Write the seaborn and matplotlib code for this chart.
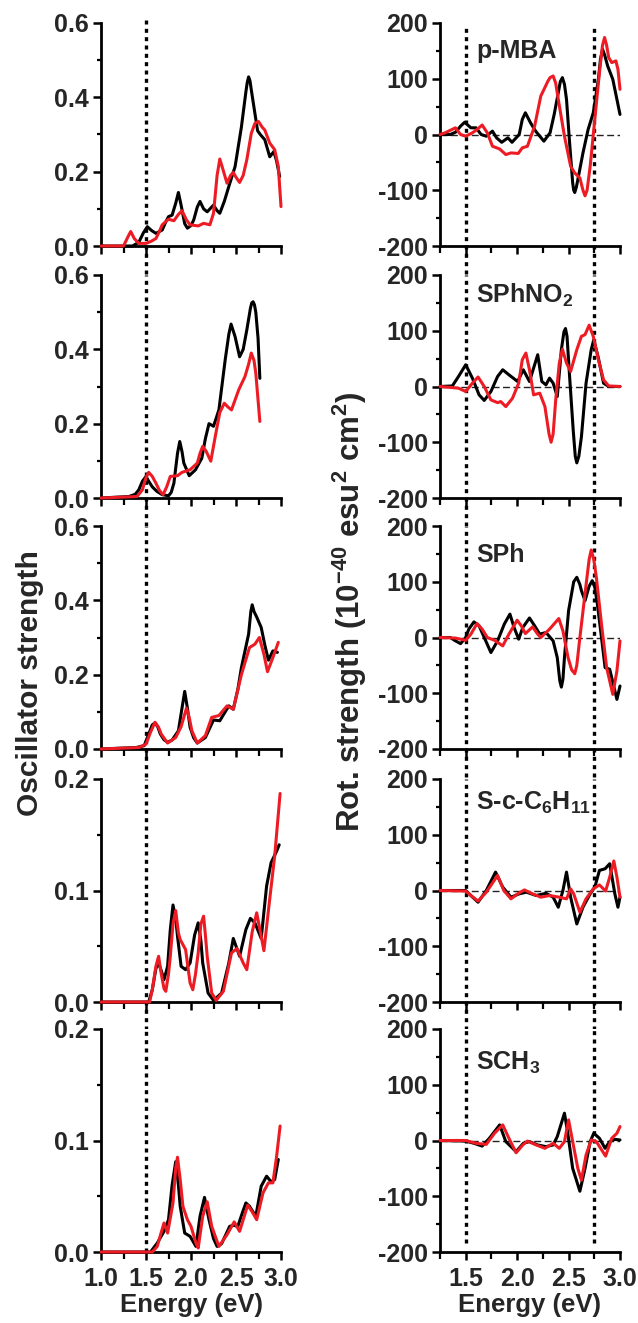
import matplotlib
matplotlib.use("Agg")
import matplotlib.pyplot as plt
from matplotlib.ticker import MultipleLocator, FormatStrFormatter
import seaborn as sns

# ---------------- data ----------------
names = ["p-MBA", "SPhNO$_2$", "SPh", "S-c-C$_6$H$_{11}$", "SCH$_3$"]

# oscillator strength (left column), black = one model, red = the other
mba_f_k_e = [1.0, 1.35, 1.42, 1.47, 1.515, 1.56, 1.61, 1.68, 1.72, 1.75, 1.79, 1.83, 1.86, 1.89, 1.93, 1.96, 2.00, 2.03, 2.07, 2.10, 2.14, 2.18, 2.25, 2.29, 2.32, 2.37, 2.42, 2.49, 2.56, 2.61, 2.625, 2.64, 2.655, 2.67, 2.71, 2.74, 2.77, 2.82, 2.875, 2.92, 2.95, 2.985]
mba_f_k = [0, 0, 0.01, 0.035, 0.052, 0.042, 0.034, 0.043, 0.065, 0.079, 0.083, 0.115, 0.144, 0.11, 0.06, 0.048, 0.055, 0.07, 0.105, 0.12, 0.10, 0.092, 0.11, 0.095, 0.088, 0.12, 0.16, 0.214, 0.32, 0.415, 0.44, 0.455, 0.445, 0.42, 0.357, 0.31, 0.30, 0.286, 0.24, 0.254, 0.23, 0.187]
mba_f_r_e = [1.0, 1.25, 1.30, 1.33, 1.37, 1.42, 1.50, 1.56, 1.61, 1.65, 1.68, 1.75, 1.81, 1.86, 1.90, 1.95, 1.99, 2.08, 2.14, 2.21, 2.25, 2.29, 2.32, 2.35, 2.40, 2.44, 2.47, 2.50, 2.54, 2.58, 2.62, 2.67, 2.71, 2.75, 2.79, 2.82, 2.875, 2.93, 2.97, 3.0]
mba_f_r = [0, 0, 0.025, 0.039, 0.02, 0.007, 0.007, 0.013, 0.02, 0.04, 0.057, 0.072, 0.068, 0.085, 0.095, 0.07, 0.057, 0.054, 0.061, 0.057, 0.088, 0.19, 0.234, 0.21, 0.169, 0.19, 0.198, 0.185, 0.171, 0.19, 0.232, 0.303, 0.33, 0.335, 0.32, 0.312, 0.277, 0.259, 0.214, 0.106]

no2_f_k_e = [1.0, 1.31, 1.38, 1.42, 1.46, 1.50, 1.53, 1.57, 1.62, 1.68, 1.75, 1.78, 1.81, 1.85, 1.875, 1.90, 1.92, 1.98, 2.05, 2.12, 2.16, 2.20, 2.25, 2.31, 2.38, 2.42, 2.445, 2.49, 2.54, 2.58, 2.62, 2.66, 2.675, 2.69, 2.705, 2.72, 2.745, 2.765]
no2_f_k = [0, 0.004, 0.01, 0.022, 0.045, 0.058, 0.045, 0.03, 0.018, 0.009, 0.006, 0.015, 0.04, 0.12, 0.152, 0.125, 0.094, 0.06, 0.076, 0.107, 0.16, 0.20, 0.193, 0.237, 0.372, 0.44, 0.468, 0.434, 0.38, 0.40, 0.452, 0.51, 0.525, 0.528, 0.52, 0.50, 0.43, 0.322]
no2_f_r_e = [1.0, 1.40, 1.46, 1.50, 1.53, 1.57, 1.61, 1.65, 1.69, 1.73, 1.77, 1.85, 1.90, 1.99, 2.07, 2.10, 2.13, 2.17, 2.22, 2.27, 2.32, 2.37, 2.41, 2.45, 2.53, 2.60, 2.64, 2.67, 2.70, 2.72, 2.765]
no2_f_r = [0, 0.004, 0.022, 0.055, 0.069, 0.058, 0.04, 0.02, 0.009, 0.03, 0.058, 0.06, 0.069, 0.076, 0.094, 0.12, 0.139, 0.125, 0.099, 0.166, 0.23, 0.255, 0.245, 0.237, 0.291, 0.327, 0.36, 0.39, 0.37, 0.336, 0.206]

sph_f_k_e = [1.0, 1.39, 1.48, 1.53, 1.57, 1.60, 1.63, 1.66, 1.70, 1.74, 1.79, 1.86, 1.90, 1.93, 1.96, 1.99, 2.03, 2.07, 2.16, 2.25, 2.32, 2.42, 2.47, 2.52, 2.56, 2.64, 2.665, 2.68, 2.70, 2.73, 2.78, 2.82, 2.86, 2.91, 2.96]
sph_f_k = [0, 0.004, 0.009, 0.04, 0.065, 0.07, 0.06, 0.04, 0.025, 0.018, 0.024, 0.049, 0.11, 0.155, 0.11, 0.058, 0.03, 0.016, 0.031, 0.078, 0.076, 0.116, 0.107, 0.16, 0.219, 0.309, 0.37, 0.388, 0.37, 0.355, 0.327, 0.28, 0.239, 0.264, 0.26]
sph_f_r_e = [1.0, 1.42, 1.50, 1.55, 1.60, 1.64, 1.67, 1.74, 1.83, 1.89, 1.95, 1.98, 2.01, 2.07, 2.16, 2.23, 2.31, 2.40, 2.47, 2.56, 2.65, 2.71, 2.76, 2.81, 2.85, 2.91, 2.97]
sph_f_r = [0, 0.004, 0.013, 0.045, 0.072, 0.058, 0.04, 0.016, 0.031, 0.06, 0.11, 0.085, 0.049, 0.016, 0.036, 0.085, 0.09, 0.116, 0.107, 0.20, 0.273, 0.282, 0.30, 0.255, 0.208, 0.246, 0.287]

chx_f_k_e = [1.0, 1.53, 1.57, 1.61, 1.64, 1.67, 1.70, 1.74, 1.77, 1.80, 1.83, 1.85, 1.89, 1.94, 1.99, 2.04, 2.08, 2.11, 2.13, 2.19, 2.25, 2.34, 2.42, 2.47, 2.54, 2.61, 2.66, 2.71, 2.78, 2.84, 2.89, 2.95, 2.98]
chx_f_k = [0, 0, 0.011, 0.03, 0.035, 0.028, 0.02, 0.032, 0.065, 0.087, 0.075, 0.059, 0.032, 0.029, 0.035, 0.06, 0.071, 0.055, 0.035, 0.008, 0.0015, 0.008, 0.035, 0.057, 0.041, 0.065, 0.075, 0.071, 0.057, 0.104, 0.125, 0.135, 0.141]
chx_f_r_e = [1.0, 1.54, 1.57, 1.61, 1.64, 1.67, 1.70, 1.72, 1.75, 1.77, 1.80, 1.83, 1.86, 1.88, 1.94, 1.99, 2.02, 2.05, 2.08, 2.11, 2.14, 2.16, 2.18, 2.23, 2.28, 2.36, 2.45, 2.51, 2.58, 2.62, 2.68, 2.73, 2.78, 2.81, 2.87, 2.93, 2.99]
chx_f_r = [0, 0, 0.011, 0.032, 0.041, 0.025, 0.012, 0.0096, 0.025, 0.041, 0.07, 0.082, 0.062, 0.056, 0.047, 0.017, 0.011, 0.025, 0.044, 0.07, 0.077, 0.06, 0.041, 0.008, 0.0015, 0.0096, 0.044, 0.048, 0.035, 0.029, 0.063, 0.08, 0.059, 0.046, 0.089, 0.131, 0.187]

me_f_k_e = [1.0, 1.55, 1.625, 1.70, 1.75, 1.79, 1.83, 1.86, 1.88, 1.93, 1.99, 2.055, 2.10, 2.15, 2.20, 2.25, 2.29, 2.34, 2.43, 2.47, 2.52, 2.57, 2.61, 2.65, 2.72, 2.78, 2.84, 2.89, 2.93, 2.97]
me_f_k = [0, 0, 0.008, 0.0185, 0.029, 0.06, 0.081, 0.06, 0.041, 0.017, 0.014, 0.005, 0.032, 0.049, 0.029, 0.012, 0.005, 0.0075, 0.023, 0.024, 0.023, 0.035, 0.044, 0.041, 0.032, 0.059, 0.068, 0.063, 0.065, 0.083]
me_f_r_e = [1.0, 1.57, 1.625, 1.66, 1.70, 1.74, 1.80, 1.83, 1.85, 1.88, 1.91, 1.96, 2.00, 2.055, 2.08, 2.13, 2.18, 2.23, 2.31, 2.40, 2.48, 2.54, 2.63, 2.68, 2.73, 2.80, 2.86, 2.91, 2.95, 2.99]
me_f_r = [0, 0, 0.005, 0.015, 0.026, 0.017, 0.044, 0.075, 0.085, 0.065, 0.041, 0.029, 0.023, 0.008, 0.0036, 0.032, 0.045, 0.023, 0.005, 0.0155, 0.027, 0.0185, 0.042, 0.036, 0.029, 0.053, 0.062, 0.062, 0.085, 0.113]

# rotatory strength (right column), 1e-40 esu^2 cm^2
mba_r_k_e = [1.25, 1.35, 1.40, 1.45, 1.49, 1.55, 1.60, 1.65, 1.70, 1.76, 1.80, 1.85, 1.91, 1.95, 2.02, 2.05, 2.08, 2.13, 2.18, 2.26, 2.32, 2.36, 2.40, 2.42, 2.44, 2.46, 2.48, 2.51, 2.54, 2.55, 2.56, 2.575, 2.59, 2.64, 2.69, 2.74, 2.79, 2.81, 2.83, 2.85, 2.88, 2.93, 3.0]
mba_r_k = [0, 0, 4, 15, 22, 12, 12, 0, -3, 6, -6, -14, -6, -14, 0, 27, 39, 21, 6, -12, 3, 36, 75, 95, 102, 90, 63, -15, -87, -100, -104, -95, -81, -33, 9, 39, 99, 135, 153, 143, 123, 99, 36]
mba_r_r_e = [1.25, 1.30, 1.40, 1.45, 1.50, 1.565, 1.61, 1.66, 1.71, 1.76, 1.83, 1.89, 1.94, 2.01, 2.05, 2.10, 2.17, 2.23, 2.30, 2.32, 2.35, 2.375, 2.40, 2.46, 2.52, 2.56, 2.61, 2.64, 2.66, 2.68, 2.71, 2.755, 2.80, 2.83, 2.85, 2.87, 2.89, 2.92, 2.96, 2.98, 3.0]
mba_r_r = [0, 3, 12, 0, -3, 3, 9, 17, 3, -21, -26, -36, -33, -34, -24, -21, 15, 69, 96, 102, 105, 92, 63, -3, -57, -69, -78, -100, -110, -100, -57, 27, 111, 160, 174, 160, 138, 129, 132, 117, 81]

no2_r_k_e = [1.25, 1.37, 1.43, 1.50, 1.565, 1.63, 1.68, 1.745, 1.81, 1.86, 1.92, 2.005, 2.06, 2.12, 2.20, 2.24, 2.28, 2.315, 2.35, 2.39, 2.43, 2.455, 2.47, 2.485, 2.51, 2.545, 2.565, 2.58, 2.60, 2.625, 2.67, 2.72, 2.745, 2.79, 2.84, 2.89, 3.0]
no2_r_k = [0, 1, 18, 39, 15, -15, -25, -9, 18, 30, 21, 9, 30, 9, 57, 9, 3, 15, 6, -18, 66, 98, 104, 90, 18, -78, -125, -137, -125, -90, 6, 66, 84, 51, 6, 0, 0]
no2_r_r_e = [1.25, 1.43, 1.50, 1.565, 1.62, 1.68, 1.745, 1.81, 1.84, 1.89, 1.955, 2.015, 2.05, 2.085, 2.12, 2.16, 2.22, 2.27, 2.31, 2.33, 2.35, 2.375, 2.41, 2.44, 2.48, 2.52, 2.58, 2.625, 2.66, 2.70, 2.74, 2.79, 2.84, 2.89, 3.0]
no2_r_r = [0, -3, -9, 6, 17, 0, -24, -29, -27, -36, -21, 6, 48, 60, 30, -15, -12, -36, -85, -100, -85, -24, 42, 67, 42, 27, 66, 90, 93, 110, 90, 48, 12, 1, 0]

sph_r_k_e = [1.25, 1.35, 1.40, 1.45, 1.50, 1.53, 1.58, 1.63, 1.68, 1.745, 1.81, 1.875, 1.93, 1.97, 2.015, 2.055, 2.12, 2.17, 2.22, 2.28, 2.35, 2.39, 2.415, 2.43, 2.445, 2.46, 2.50, 2.55, 2.58, 2.61, 2.625, 2.66, 2.70, 2.73, 2.755, 2.78, 2.82, 2.855, 2.90, 2.935, 2.97, 3.0]
sph_r_k = [0, 0, -6, -11, 0, 15, 28, 21, 0, -27, -6, 24, 42, 18, -3, 18, 35, 21, 6, 9, -6, -36, -78, -89, -75, -36, 48, 100, 108, 95, 84, 66, 92, 102, 90, 60, 0, -54, -57, -84, -111, -87]
sph_r_r_e = [1.25, 1.40, 1.50, 1.55, 1.61, 1.66, 1.71, 1.78, 1.86, 1.92, 2.00, 2.04, 2.08, 2.15, 2.20, 2.23, 2.315, 2.405, 2.445, 2.495, 2.53, 2.56, 2.58, 2.61, 2.675, 2.70, 2.72, 2.745, 2.77, 2.82, 2.87, 2.93, 2.97, 3.0]
sph_r_r = [0, -1, -5, 6, 25, 15, 0, -5, -15, 6, 31, 21, 7, 19, 6, 0, 15, 34, 12, -36, -58, -65, -50, 0, 102, 140, 157, 140, 108, 24, -54, -102, -60, -6]

chx_r_k_e = [1.25, 1.50, 1.55, 1.62, 1.70, 1.79, 1.86, 1.94, 2.02, 2.09, 2.185, 2.28, 2.35, 2.40, 2.445, 2.48, 2.52, 2.58, 2.64, 2.71, 2.755, 2.80, 2.855, 2.90, 2.95, 2.98, 3.0]
chx_r_k = [0, 0, -9, -21, 0, 33, 6, -12, -6, -3, -9, -5, -12, -30, 0, 33, -12, -60, -30, -6, 6, 36, 39, 48, -6, -30, -12]
chx_r_r_e = [1.25, 1.50, 1.55, 1.62, 1.70, 1.81, 1.87, 1.94, 2.005, 2.07, 2.15, 2.23, 2.315, 2.41, 2.48, 2.52, 2.55, 2.61, 2.67, 2.74, 2.80, 2.86, 2.90, 2.94, 2.97, 3.0]
chx_r_r = [0, -1, -9, -19, -3, 27, 0, -15, -6, 1, -6, -12, -9, -12, -15, 3, -6, -39, -15, 3, 10, -1, 24, 53, 24, -12]

me_r_k_e = [1.25, 1.50, 1.58, 1.66, 1.73, 1.83, 1.89, 1.99, 2.06, 2.12, 2.20, 2.28, 2.35, 2.39, 2.46, 2.49, 2.54, 2.61, 2.66, 2.71, 2.745, 2.80, 2.855, 2.90, 2.95, 3.0]
me_r_k = [0, -1, -5, -10, 4, 28, -2, -20, -5, -2, -8, -11, -8, 7, 49, 16, -50, -91, -50, -2, 13, 4, -14, -2, 2, 1]
me_r_r_e = [1.25, 1.50, 1.60, 1.70, 1.78, 1.86, 1.92, 1.99, 2.055, 2.10, 2.185, 2.27, 2.35, 2.41, 2.46, 2.50, 2.54, 2.59, 2.625, 2.67, 2.72, 2.77, 2.86, 2.92, 2.97, 3.0]
me_r_r = [0, 0, -5, -7, 13, 28, 4, -22, -8, -1, -8, -14, -5, -14, -2, 37, -2, -50, -71, -26, 1, -2, -28, 4, 13, 25]

osc_black = [(mba_f_k_e, mba_f_k), (no2_f_k_e, no2_f_k), (sph_f_k_e, sph_f_k), (chx_f_k_e, chx_f_k), (me_f_k_e, me_f_k)]
osc_red = [(mba_f_r_e, mba_f_r), (no2_f_r_e, no2_f_r), (sph_f_r_e, sph_f_r), (chx_f_r_e, chx_f_r), (me_f_r_e, me_f_r)]
rot_black = [(mba_r_k_e, mba_r_k), (no2_r_k_e, no2_r_k), (sph_r_k_e, sph_r_k), (chx_r_k_e, chx_r_k), (me_r_k_e, me_r_k)]
rot_red = [(mba_r_r_e, mba_r_r), (no2_r_r_e, no2_r_r), (sph_r_r_e, sph_r_r), (chx_r_r_e, chx_r_r), (me_r_r_e, me_r_r)]
osc_ymax = [0.6, 0.6, 0.6, 0.2, 0.2]

# ---------------- style ----------------
sns.set_style("ticks")
plt.rcParams['font.family'] = ['Liberation Sans', 'DejaVu Sans']
plt.rcParams['font.weight'] = 'bold'
plt.rcParams['axes.labelweight'] = 'bold'
plt.rcParams['axes.unicode_minus'] = False
plt.rcParams['mathtext.fontset'] = 'custom'
plt.rcParams['mathtext.rm'] = 'Liberation Sans:bold'
plt.rcParams['mathtext.bf'] = 'Liberation Sans:bold'
plt.rcParams['mathtext.default'] = 'rm'

RED = '#ed1c24'
W, H = 638, 1323
fig = plt.figure(figsize=(W / 100, H / 100), dpi=100)

tops = [23, 275, 526, 779, 1029]   # px, top of each panel
ph = 223                           # panel height in px
pw = 180


def make_ax(x0, top):
    return fig.add_axes([x0 / W, 1 - (top + ph) / H, pw / W, ph / H])


def style_ax(ax, bottom):
    for s in ['top', 'right']:
        ax.spines[s].set_visible(False)
    for s in ['left', 'bottom']:
        ax.spines[s].set_linewidth(2.0)
        ax.spines[s].set_color('black')
    ax.tick_params(which='major', direction='out', length=5.5, width=1.8,
                   labelsize=18, pad=3, color='black')
    ax.tick_params(which='minor', direction='out', length=3, width=1.6, color='black')
    ax.tick_params(axis='x', which='minor', length=5)
    ax.tick_params(axis='x', which='major', pad=5)
    if not bottom:
        ax.tick_params(axis='x', labelbottom=False)


for i in range(5):
    bottom = (i == 4)
    # ---- left: oscillator strength
    ax = make_ax(101, tops[i])
    sns.lineplot(x=osc_black[i][0], y=osc_black[i][1], ax=ax, color='black',
                 lw=2.2, sort=False, estimator=None, clip_on=False, zorder=3)
    sns.lineplot(x=osc_red[i][0], y=osc_red[i][1], ax=ax, color=RED,
                 lw=2.2, sort=False, estimator=None, clip_on=False, zorder=4)
    ax.axvline(1.5, ymin=(-0.125 if not bottom else 0), ymax=(1.015 if i == 0 else 1.0),
               color='black', lw=2.4, ls=(0, (1.2, 1.3)), clip_on=False, zorder=2)
    ax.set_xlim(1.0, 3.0)
    ax.set_ylim(0, osc_ymax[i])
    ax.xaxis.set_major_locator(MultipleLocator(0.5))
    ax.xaxis.set_minor_locator(MultipleLocator(0.25))
    ax.yaxis.set_major_locator(MultipleLocator(0.2 if i < 3 else 0.1))
    ax.yaxis.set_minor_locator(MultipleLocator(0.1 if i < 3 else 0.05))
    ax.xaxis.set_major_formatter(FormatStrFormatter('%.1f'))
    ax.yaxis.set_major_formatter(FormatStrFormatter('%.1f'))
    style_ax(ax, bottom)
    if bottom:
        ax.set_xlabel('Energy (eV)', fontsize=18.5, labelpad=2)

    # ---- right: rotatory strength
    ax = make_ax(440, tops[i])
    ax.axhline(0, color='#222222', lw=1.0, ls=(0, (5, 2.5)), zorder=2)
    sns.lineplot(x=rot_black[i][0], y=rot_black[i][1], ax=ax, color='black',
                 lw=2.2, sort=False, estimator=None, clip_on=False, zorder=3)
    sns.lineplot(x=rot_red[i][0], y=rot_red[i][1], ax=ax, color=RED,
                 lw=2.2, sort=False, estimator=None, clip_on=False, zorder=4)
    for xv in (1.5, 2.75):
        ax.axvline(xv, ymin=(-0.125 if not bottom else 0.04), ymax=(0.98 if i == 0 else 1.0),
                   color='black', lw=2.4, ls=(0, (1.2, 1.3)), clip_on=False, zorder=2)
    ax.set_xlim(1.25, 3.0)
    ax.set_ylim(-200, 200)
    ax.xaxis.set_major_locator(MultipleLocator(0.5))
    ax.xaxis.set_minor_locator(MultipleLocator(0.25))
    ax.yaxis.set_major_locator(MultipleLocator(100))
    ax.yaxis.set_minor_locator(MultipleLocator(50))
    ax.xaxis.set_major_formatter(FormatStrFormatter('%.1f'))
    ax.yaxis.set_major_formatter(FormatStrFormatter('%d'))
    style_ax(ax, bottom)
    ax.text(0.2, [0.875, 0.91, 0.87, 0.895, 0.85][i], names[i], transform=ax.transAxes,
            fontsize=18, fontweight='bold', ha='left', va='center')
    if bottom:
        ax.set_xlabel('Energy (eV)', fontsize=18.5, labelpad=2)

fig.text(30 / W, 1 - 683 / H, 'Oscillator strength', rotation=90, fontsize=21.5,
         fontweight='bold', ha='center', va='center')
fig.text(350 / W, 1 - 612 / H,
         r'Rot. strength (10$^{-40}$ esu$^{2}$ cm$^{2}$)', rotation=90, fontsize=22.5,
         fontweight='bold', ha='center', va='center')

fig.savefig('out.png', dpi=100)
